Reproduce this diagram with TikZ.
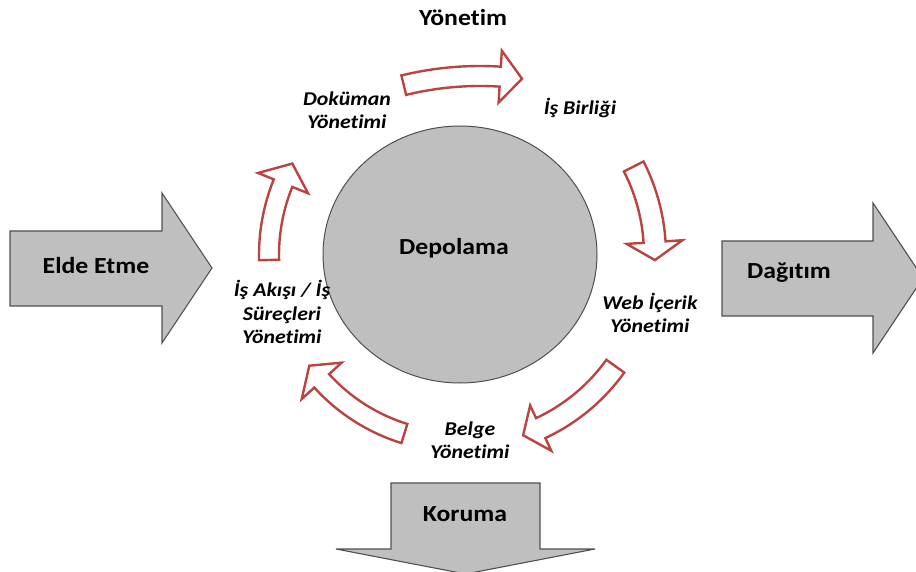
\documentclass[tikz,border=0pt]{standalone}
\usepackage{fontspec}
\setmainfont{Carlito}[FakeStretch=1.12, Ligatures=NoCommon]
\usetikzlibrary{shapes.geometric}

\definecolor{shapegray}{RGB}{191,191,191}
\definecolor{edgegray}{RGB}{80,80,80}
\definecolor{arrowred}{RGB}{186,68,66}

% Curved block arrow following a circle about (#1,#2) of radius #3,
% from angle #4 to the tip at angle #5 (clockwise on the page),
% body half width #6, head half width #7, head length #8 degrees.
\newcommand\redringarrow[8]{%
  \pgfmathsetmacro\headbase{#5-#8}%
  \draw[ringarrow]
    plot[domain=#4:\headbase, samples=30] ({#1+(#3+#6)*cos(\x)},{#2+(#3+#6)*sin(\x)})
    -- ({#1+(#3+#7)*cos(\headbase)},{#2+(#3+#7)*sin(\headbase)})
    -- ({#1+#3*cos(#5)},{#2+#3*sin(#5)})
    -- ({#1+(#3-#7)*cos(\headbase)},{#2+(#3-#7)*sin(\headbase)})
    -- plot[domain=\headbase:#4, samples=30] ({#1+(#3-#6)*cos(\x)},{#2+(#3-#6)*sin(\x)})
    -- cycle;}

\begin{document}
\begin{tikzpicture}[x=1pt, y=-1pt,
  blockfill/.style={fill=shapegray, draw=edgegray, line width=1.1pt, line join=miter},
  ringarrow/.style={fill=white, draw=arrowred, line width=2.4pt, line join=miter},
  heading/.style={font=\fontsize{23}{27}\selectfont\bfseries, text=black, inner sep=0pt},
  cyclelabel/.style={font=\fontsize{19.5}{23.5}\selectfont\bfseries\itshape,
                     align=center, text=black, inner sep=0pt}]

\useasboundingbox (0,0) rectangle (916,572);
\clip (0,0) rectangle (916,572);

% central repository
\node[ellipse, fill=shapegray, draw=edgegray, line width=1pt,
      minimum width=274pt, minimum height=257pt, inner sep=0pt] (store) at (460,254.5) {};
\node[heading] (depolama) at (454,248) {Depolama};

% input, output and protection arrows
\draw[blockfill] (10,231) -- (162,231) -- (162,193) -- (212,268) -- (162,343)
  -- (162,306) -- (10,306) -- cycle;
\node[heading] (elde) at (96,266) {Elde Etme};

\draw[blockfill] (722,241) -- (873,241) -- (873,203) -- (923,278) -- (873,353)
  -- (873,316) -- (722,316) -- cycle;
\node[heading] (dagitim) at (789,273) {Dağıtım};

\draw[blockfill] (391,483) -- (540,483) -- (540,549) -- (595,549) -- (465.5,574)
  -- (336,549) -- (391,549) -- cycle;
\node[heading] (koruma) at (465,514) {Koruma};

\node[heading] (yonetim) at (463,18) {Yönetim};

% management cycle
\redringarrow{480}{398}{322}{-103.7}{-82.5}{10}{26}{3.9}
\redringarrow{460}{255}{195}{-27}{1.5}{11}{28}{5.3}
\redringarrow{460}{255}{191}{35.6}{70.7}{11}{25}{5.7}
\redringarrow{460}{255}{187}{107.3}{143.7}{10}{27}{6}
\redringarrow{460}{255}{191}{178.5}{208.6}{10}{27}{6.5}

\node[cyclelabel] (dokuman) at (347,110) {Doküman\\Yönetimi};
\node[cyclelabel] (isbirligi) at (580,108) {İş Birliği};
\node[cyclelabel] (web) at (650,313) {Web İçerik\\Yönetimi};
\node[cyclelabel] (belge) at (470,440) {Belge\\Yönetimi};
\node[cyclelabel] (isakisi) at (282,312) {İş Akışı / İş\\Süreçleri\\Yönetimi};

\end{tikzpicture}
\end{document}
